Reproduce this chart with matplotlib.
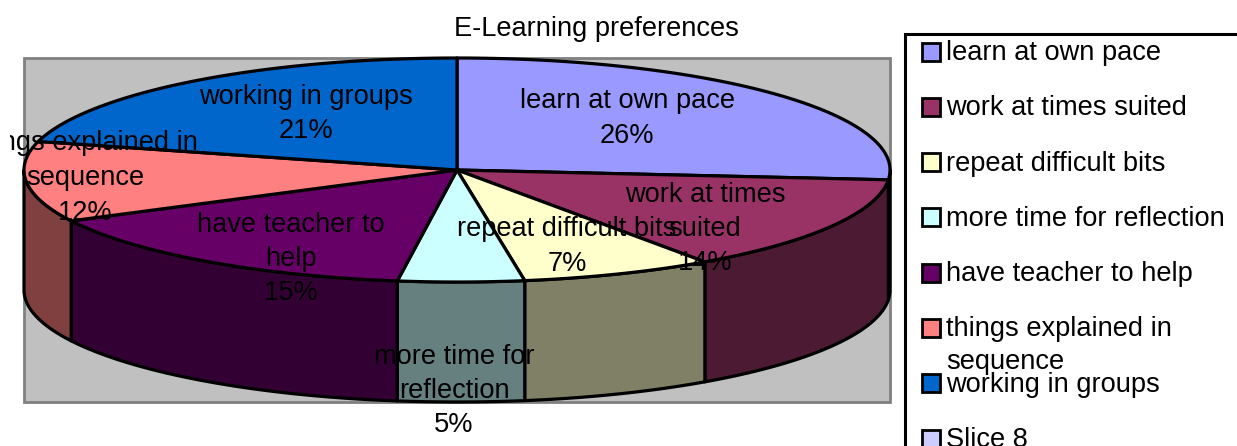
import numpy as np
import matplotlib
matplotlib.use("Agg")
import matplotlib.pyplot as plt
from matplotlib.patches import Polygon, Rectangle

plt.rcParams['font.family'] = ['Liberation Sans', 'DejaVu Sans']

title = "E-Learning preferences"
categories = ["learn at own pace", "work at times suited", "repeat difficult bits",
              "more time for reflection", "have teacher to help",
              "things explained in sequence", "working in groups", "Slice 8"]
values = [26.4, 13.9, 7.2, 4.7, 15.3, 11.6, 20.9, 0.0]
top_colors = ["#9999FF", "#993366", "#FFFFCC", "#CCFFFF", "#660066", "#FF8080", "#0066CC", "#CCCCFF"]

# wrapped forms used by the on-slice labels / legend
label_lines = [["learn at own pace"], ["work at times", "suited"], ["repeat difficult bits"],
               ["more time for", "reflection"], ["have teacher to", "help"],
               ["things explained in", "sequence"], ["working in groups"], ["Slice 8"]]
legend_lines = [["learn at own pace"], ["work at times suited"], ["repeat difficult bits"],
                ["more time for reflection"], ["have teacher to help"],
                ["things explained in", "sequence"], ["working in groups"], ["Slice 8"]]

# layout (pixels)
W, H = 1237, 446
CX, CY, A, B, DEPTH = 457, 170, 433, 112, 120
FS = 19.6
label_x = [627, 705, 567, 454, 291, 85, 306]
label_top = [101.5, 194.5, 229.5, 356.5, 224.5, 143.5, 96.5]
LINE = 34.5

fig = plt.figure(figsize=(W / 100, H / 100), dpi=100, facecolor="white")
ax = fig.add_axes([0, 0, 1, 1])
ax.set_xlim(0, W)
ax.set_ylim(H, 0)
ax.axis("off")

ax.add_patch(Rectangle((24, 58), 866, 344, fc="#C0C0C0", ec="#808080", lw=2.0, zorder=1))


def pt(theta, dy=0.0):
    theta = np.asarray(theta)
    return np.column_stack([CX + A * np.sin(theta), CY - B * np.cos(theta) + dy])


fractions = np.array(values) / sum(values)
edges = np.concatenate([[0], np.cumsum(fractions)]) * 2 * np.pi
LW = 2.3


def shade(c):
    return tuple(v * 0.5 for v in matplotlib.colors.to_rgb(c))


# side walls, visible only on the front half
for i, c in enumerate(top_colors):
    lo = max(edges[i], np.pi / 2)
    hi = min(edges[i + 1], 3 * np.pi / 2)
    if hi <= lo:
        continue
    th = np.linspace(lo, hi, 80)
    poly = np.vstack([pt(th), pt(th[::-1], DEPTH)])
    ax.add_patch(Polygon(poly, closed=True, fc=shade(c), ec="black", lw=LW, joinstyle="round", zorder=2))

# top faces
for i, c in enumerate(top_colors):
    if edges[i + 1] <= edges[i]:
        continue
    th = np.linspace(edges[i], edges[i + 1], 120)
    poly = np.vstack([[CX, CY], pt(th)])
    ax.add_patch(Polygon(poly, closed=True, fc=c, ec="black", lw=LW, joinstyle="round", zorder=3))

# on-slice labels
clip = Rectangle((10, H), W, -H, transform=ax.transData)
for i, lines in enumerate(label_lines[:len(label_x)]):
    pct = f"{round(fractions[i] * 100)}%"
    for j, s in enumerate(lines + [pct]):
        t = ax.text(label_x[i], label_top[i] + j * LINE, s, ha="center", va="center",
                    fontsize=FS, color="black", zorder=5, clip_on=True)
        t.set_clip_path(clip)

ax.text(596, 29.5, title, ha="center", va="center", fontsize=FS, color="black", zorder=5)

# legend
ax.add_patch(Rectangle((905, 34), 600, 600, fc="white", ec="black", lw=2.2, zorder=4))
ROW = 55.3
for i, lines in enumerate(legend_lines):
    yc = 51.5 + ROW * i
    ax.add_patch(Rectangle((922, yc - 9), 18, 18, fc=top_colors[i], ec="black", lw=2.0, zorder=5))
    for j, s in enumerate(lines):
        ax.text(946, yc + 1.5 + j * 32.5, s, ha="left", va="center", fontsize=FS, color="black", zorder=6)

fig.savefig("out.png", dpi=100, facecolor="white")
